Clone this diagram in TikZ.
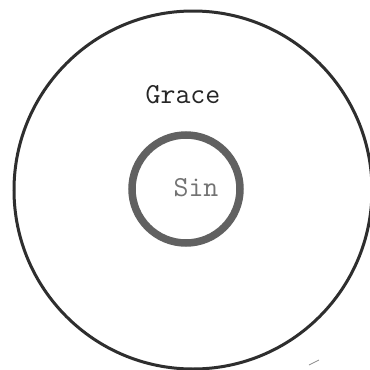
\documentclass[tikz,border=0pt]{standalone}
\begin{document}
\begin{tikzpicture}[x=1pt,y=-1pt,
  ring/.style={circle,inner sep=0pt,fill=none},
  label/.style={font=\ttfamily\fontsize{29}{29}\selectfont,inner sep=0pt,anchor=center}]
\useasboundingbox (0,0) rectangle (370,370);
\fill[white] (0,0) rectangle (370,370);
\clip (0,0) rectangle (370,370);
\node[ring,draw=black!82,line width=3pt,minimum size=358pt] (outer) at (193,190) {};
\node[ring,draw=black!62,line width=7.5pt,minimum size=108pt] (inner) at (186,189) {};
\node[label,text=black!85] (grace) at (183,95) {Grace};
\node[label,text=black!55] (sin) at (196,188) {Sin};
\coordinate (m1) at (309,365);
\coordinate (m2) at (319,360);
\draw[black!45,line width=0.7pt] (m1) -- (m2);
\end{tikzpicture}
\end{document}
